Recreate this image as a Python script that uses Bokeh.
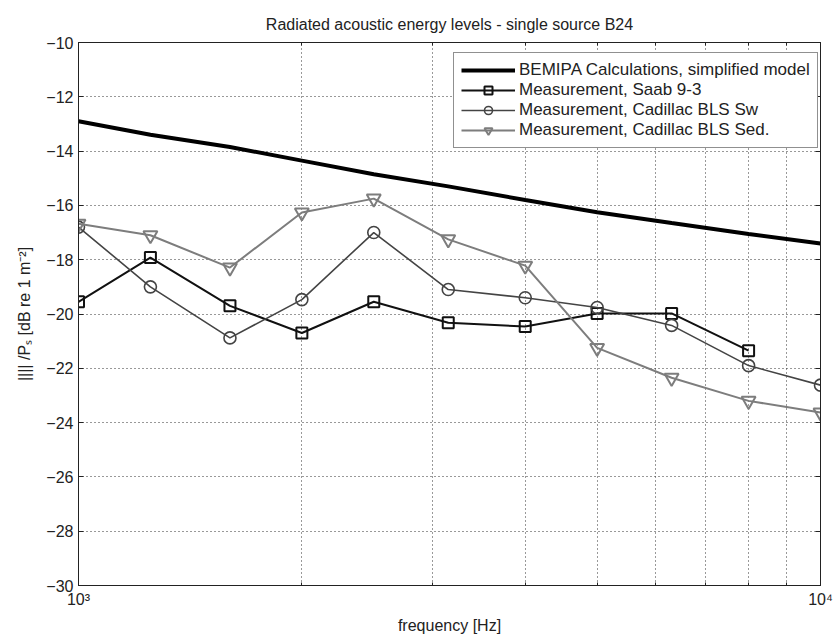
from bokeh.plotting import figure
from bokeh.models import FixedTicker, LogAxis, LinearAxis, Range1d, Legend, LegendItem
from bokeh.embed import file_html
from bokeh.resources import INLINE

# ---- data ----
freq = [1000, 1250, 1600, 2000, 2500, 3150, 4000, 5000, 6300, 8000, 10000]
bemipa = [-12.9, -13.4, -13.85, -14.35, -14.85, -15.3, -15.8, -16.25, -16.65, -17.05, -17.4]
saab_freq = [1000, 1250, 1600, 2000, 2500, 3150, 4000, 5000, 6300, 8000]
saab = [-19.55, -17.92, -19.7, -20.7, -19.55, -20.32, -20.46, -19.98, -19.98, -21.35]
cad_sw = [-16.8, -19.0, -20.88, -19.47, -17.0, -19.1, -19.4, -19.76, -20.42, -21.9, -22.62]
cad_sed = [-16.68, -17.1, -18.29, -16.26, -15.75, -17.25, -18.22, -21.25, -22.35, -23.2, -23.63]

yticks = [-30, -28, -26, -24, -22, -20, -18, -16, -14, -12, -10]
xticks_major = [1000, 10000]
xticks_minor = [2000, 3000, 4000, 5000, 6000, 7000, 8000, 9000]
xtick_labels = {1000: "10³", 10000: "10⁴"}

FONT = "Liberation Sans"
FS = "16px"

p = figure(frame_width=742, frame_height=543,
           x_axis_type="log",
           x_range=Range1d(1000, 10000), y_range=Range1d(-30, -10),
           output_backend="svg", toolbar_location=None,
           min_border_left=78, min_border_right=13,
           min_border_top=42, min_border_bottom=52,
           title="Radiated acoustic energy levels - single source B24")
p.background_fill_color = "white"
p.border_fill_color = "white"
p.outline_line_color = "#222222"
p.outline_line_width = 1

p.title.align = "center"
p.title.text_font = FONT
p.title.text_font_style = "normal"
p.title.text_font_size = FS
p.title.text_color = "#222222"
p.title.standoff = 20

xticker = FixedTicker(ticks=xticks_major, minor_ticks=xticks_minor)
yticker = FixedTicker(ticks=yticks, minor_ticks=[])

xa = p.xaxis[0]
xa.ticker = xticker
xa.major_label_overrides = xtick_labels
xa.axis_label = "frequency [Hz]"
ya = p.yaxis[0]
ya.ticker = yticker
ya.axis_label = "|||| /Pₛ [dB re 1 m⁻²]"

for ax in (xa, ya):
    ax.major_tick_in = 5
    ax.major_tick_out = 0
    ax.minor_tick_in = 3
    ax.minor_tick_out = 0
    ax.axis_line_color = "#222222"
    ax.major_tick_line_color = "#222222"
    ax.minor_tick_line_color = "#222222"
    ax.major_label_text_font = FONT
    ax.major_label_text_font_size = FS
    ax.major_label_text_color = "#222222"
    ax.axis_label_text_font = FONT
    ax.axis_label_text_font_size = FS
    ax.axis_label_text_font_style = "normal"
    ax.axis_label_text_color = "#222222"
xa.major_label_standoff = 5
ya.major_label_standoff = 5
xa.axis_label_standoff = 6
ya.axis_label_standoff = 10

# mirrored tick axes (top / right), labels invisible
top = LogAxis(ticker=xticker, major_label_text_font_size="1px", major_label_text_alpha=0,
              major_tick_in=5, major_tick_out=0, minor_tick_in=3, minor_tick_out=0,
              axis_line_color="#222222", major_tick_line_color="#222222",
              minor_tick_line_color="#222222", major_label_standoff=0)
right = LinearAxis(ticker=yticker, major_label_text_font_size="1px", major_label_text_alpha=0,
                   major_tick_in=5, major_tick_out=0, minor_tick_in=0, minor_tick_out=0,
                   axis_line_color="#222222", major_tick_line_color="#222222",
                   major_label_standoff=0)
p.add_layout(top, "above")
p.add_layout(right, "right")

p.xgrid.ticker = xticker
p.xgrid.grid_line_color = None
p.xgrid.minor_grid_line_color = "#333333"
p.xgrid.minor_grid_line_dash = "1 3"
p.xgrid.minor_grid_line_width = 1
p.ygrid.ticker = yticker
p.ygrid.grid_line_color = "#333333"
p.ygrid.grid_line_dash = "1 3"
p.ygrid.grid_line_width = 1

c_b = "#000000"
c_saab = "#111111"
c_sw = "#444444"
c_sed = "#7d7d7d"

r_b = p.line(freq, bemipa, line_color=c_b, line_width=4)
r_s1 = p.line(saab_freq, saab, line_color=c_saab, line_width=2)
r_s2 = p.scatter(saab_freq, saab, marker="square", size=11, fill_color=None,
                 line_color=c_saab, line_width=2)
r_w1 = p.line(freq, cad_sw, line_color=c_sw, line_width=1.6)
r_w2 = p.scatter(freq, cad_sw, marker="circle", size=12, fill_color=None,
                 line_color=c_sw, line_width=1.6)
r_d1 = p.line(freq, cad_sed, line_color=c_sed, line_width=2)
r_d2 = p.scatter(freq, cad_sed, marker="inverted_triangle", size=14, fill_color=None,
                 line_color=c_sed, line_width=2)

legend = Legend(items=[
    LegendItem(label="BEMIPA Calculations, simplified model", renderers=[r_b]),
    LegendItem(label="Measurement, Saab 9-3", renderers=[r_s1, r_s2]),
    LegendItem(label="Measurement, Cadillac BLS Sw", renderers=[r_w1, r_w2]),
    LegendItem(label="Measurement, Cadillac BLS Sed.", renderers=[r_d1, r_d2]),
], location=(375, 437))
legend.border_line_color = "#222222"
legend.border_line_width = 1
legend.background_fill_color = "white"
legend.background_fill_alpha = 1.0
legend.label_text_font = FONT
legend.label_text_font_size = "17px"
legend.label_text_color = "#222222"
legend.glyph_width = 54
legend.glyph_height = 20
legend.label_height = 20
legend.label_standoff = 4
legend.spacing = 0
legend.padding = 7
legend.margin = 0
p.add_layout(legend)

open("out.html", "w").write(file_html(p, INLINE))
